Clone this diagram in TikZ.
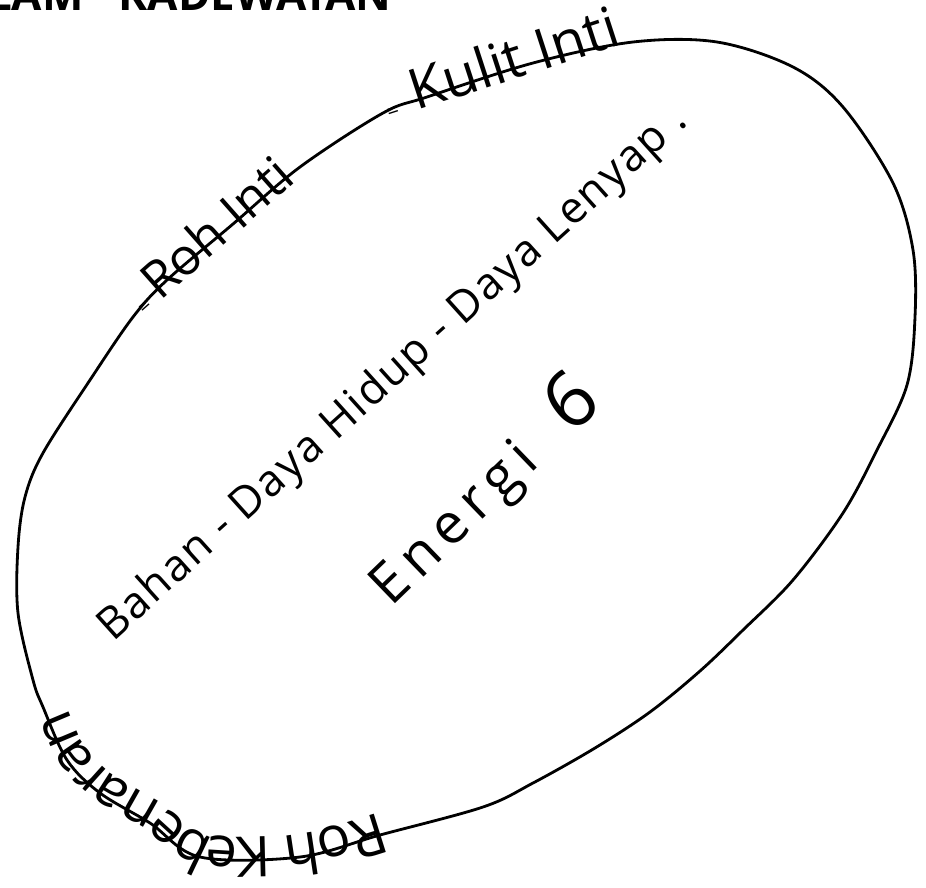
\documentclass[tikz,border=0pt]{standalone}
\usepackage{fontspec}
\setmainfont{Open Sans}
\newfontfamily\widefont[LetterSpace=4]{Open Sans}
\newfontfamily\spreadfont[LetterSpace=15]{Open Sans}
\usetikzlibrary{decorations.text}

\begin{document}
\begin{tikzpicture}[x=0.02cm,y=-0.02cm,
  rim/.style={line width=1.6pt,line join=round},
  rimlbl/.style={anchor=base,inner sep=0pt},
  midtxt/.style={anchor=base,inner sep=0pt,font=\widefont\fontsize{25}{29}\selectfont}]
\useasboundingbox (0,0) rectangle (926,887);
\clip (0,0) rectangle (926,887);
% title, cut by the top edge
\node[anchor=base east,inner sep=0pt,font=\fontsize{25}{30}\selectfont\bfseries] (title) at (392,10) {ALAM\hskip0.8em KADEWATAN};
% the egg-shaped rim
\draw[rim] plot[smooth cycle,tension=0.55] coordinates {
  (90,380) (133,317) (167,280) (233,224) (300,167) (383,113) (427,97)
  (533,63) (633,42) (717,42) (793,67) (843,107) (893,183) (913,250)
  (915,317) (907,385) (877,450) (843,513) (793,580) (743,630) (700,671)
  (650,712) (595,748) (533,783) (483,807) (380,835) (300,857) (200,857)
  (150,823) (100,793) (67,760) (43,707) (33,680) (18,613) (18,547)
  (25,497) (43,453)};
% labels written on the rim
\node[rimlbl,rotate=41.5,font=\fontsize{29}{33}\selectfont] (rohinti) at (221,248) {{\fontsize{12}{12}\selectfont =}\,Roh Inti};
\node[rimlbl,rotate=18,font=\fontsize{32}{36}\selectfont] (kulitinti) at (506,82) {{\fontsize{12}{12}\selectfont =}\hskip0.3em Kulit Inti};
\path[decorate,decoration={text along path,raise=-13pt,
    text={|\fontsize{32}{36}\selectfont|Roh Kebenaran}}]
  plot[smooth,tension=0.55] coordinates {(386,834) (300,857) (200,857) (150,823)
    (100,793) (67,760) (43,707) (30,672) (22,630)};
% inside the rim
\node[midtxt,rotate=42] (bahan) at (401,383) {Bahan - Daya Hidup - Daya Lenyap .};
\node[anchor=base,inner sep=0pt,rotate=44,font=\spreadfont\fontsize{32}{36}\selectfont] (energi) at (466,536) {Energi};
\node[inner sep=0pt,rotate=40,font=\fontsize{44}{48}\selectfont] (six) at (570,400) {6};
\end{tikzpicture}
\end{document}
